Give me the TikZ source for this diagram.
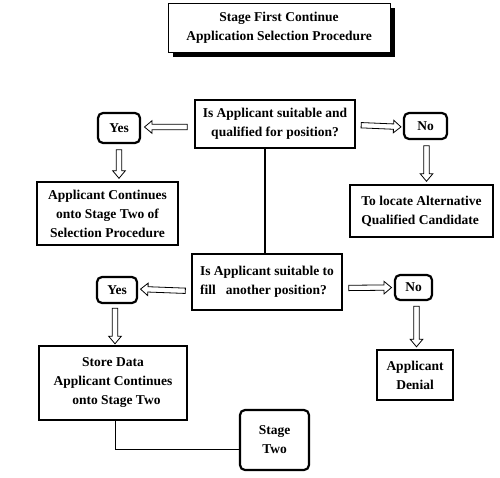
\documentclass[tikz,border=0pt]{standalone}
\usepackage{fontspec}
\setmainfont{Liberation Serif}
\usetikzlibrary{arrows.meta,positioning,shadows,shapes.arrows,calc}

% hollow block arrow between two points, #1 = total gap
\newcommand{\hollowarrow}[3][8pt]{%
  \path let \p1=(#2), \p2=(#3), \n1={veclen(\x2-\x1,\y2-\y1)} in
    (\p1) -- node[harrow,minimum height=\n1-#1] {} (\p2);}

\begin{document}
\begin{tikzpicture}[x=1pt,y=-1pt,
  every node/.style={font=\bfseries\fontsize{13.5}{19}\selectfont,inner sep=2pt},
  qbox/.style={draw,line width=2.2pt,fill=white},
  rbox/.style={draw,line width=2.6pt,fill=white},
  ybox/.style={draw,line width=2.2pt,rounded corners=5pt,fill=white},
  harrow/.style={single arrow,draw,line width=0.8pt,fill=white,inner sep=2.2pt,
    minimum width=12.5pt,single arrow head extend=3.5pt,single arrow tip angle=80,
    sloped,allow upside down}]
\useasboundingbox (0,0) rectangle (500,478);
\fill[white] (0,0) rectangle (500,478);

% title
\node [draw,line width=0.8pt,fill=white,align=center,minimum width=222pt,minimum height=49pt,
  drop shadow={opacity=1,fill=black,shadow xshift=5pt,shadow yshift=-5pt}]
  (title) at (279,27.5) {Stage First Continue\\Application Selection Procedure};

% first question
\node [qbox,align=center,minimum width=160pt,minimum height=48pt] (q1) at (275,124)
  {Is Applicant suitable and\\qualified for position?};
\node [ybox,minimum width=42pt,minimum height=30pt] (yes1) at (119,128) {Yes};
\node [ybox,minimum width=43pt,minimum height=26pt] (no1) at (425.5,126) {No};
\node [rbox,align=center,minimum width=141pt,minimum height=63pt] (cont) at (107.5,213.5)
  {Applicant Continues\\onto Stage Two of\\Selection Procedure};
\node [rbox,align=left,minimum width=143pt,minimum height=52pt] (locate) at (421.5,211)
  {To locate Alternative\\Qualified Candidate};

% second question
\node [qbox,align=left,minimum width=150pt,minimum height=56pt] (q2) at (267,282)
  {Is Applicant suitable to\\fill\ \ \ another position?};
\node [ybox,minimum width=40pt,minimum height=26pt] (yes2) at (117,290) {Yes};
\node [ybox,minimum width=37pt,minimum height=25pt] (no2) at (413.5,287.5) {No};
\node [rbox,align=center,minimum width=148pt,minimum height=74pt] (store) at (113,383)
  {Store Data\\Applicant Continues\\\ \ onto Stage Two};
\node [rbox,align=center,minimum width=76pt,minimum height=50pt] (denial) at (415,375)
  {Applicant\\Denial};
\node [ybox,align=center,minimum width=69pt,minimum height=60pt] (stage2) at (274.5,440)
  {Stage\\Two};

% connectors
\hollowarrow[10pt]{[yshift=-3pt]q1.west}{[yshift=1pt]yes1.east}
\hollowarrow[7pt]{[yshift=-1pt]q1.east}{[yshift=-1pt]no1.west}
\hollowarrow[8pt]{yes1.south}{yes1.south |- cont.north}
\hollowarrow[8pt]{[xshift=1pt]no1.south}{[xshift=1pt]no1.south |- locate.north}
\draw [line width=2pt] ([xshift=-2pt]q2.north) -- ([xshift=-2pt]q2.north |- q1.south);

\hollowarrow[8pt]{[yshift=-9pt]q2.west}{[yshift=1pt]yes2.east}
\hollowarrow[8pt]{[yshift=-6pt]q2.east}{no2.west}
\hollowarrow[5pt]{[xshift=-2pt]yes2.south}{[xshift=-2pt]yes2.south |- store.north}
\hollowarrow[7pt]{[xshift=3pt]no2.south}{[xshift=3pt]no2.south |- denial.north}

\draw [line width=0.8pt] ([xshift=2pt]store.south) |- ([yshift=-9pt]stage2.west);
\end{tikzpicture}
\end{document}
